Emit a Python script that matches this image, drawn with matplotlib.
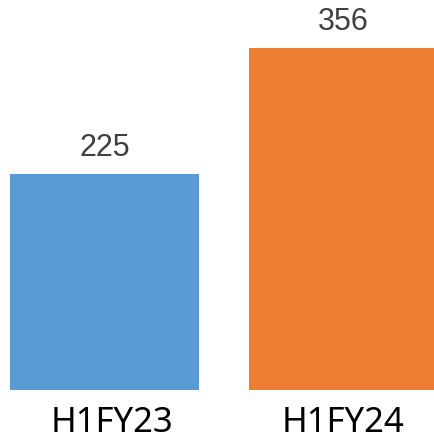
import matplotlib
matplotlib.use("Agg")
import matplotlib.pyplot as plt

categories = ["H1FY23", "H1FY24"]
values = [225, 356]
colors = ["#5B9BD5", "#ED7D31"]

fig = plt.figure(figsize=(4.34, 4.40), dpi=100)
ax = fig.add_axes([0, 50 / 440, 1, 390 / 440])

x = list(range(len(categories)))
bars = ax.bar(x, values, width=0.79, color=colors)

for rect, v in zip(bars, values):
    ax.annotate(f"{v}", (rect.get_x() + rect.get_width() / 2, v),
                xytext=(0, 13), textcoords="offset points",
                ha="center", va="baseline", fontsize=22,
                fontfamily=["Liberation Sans"], color="#404040")

ax.set_xlim(-0.437, 1.379)
ax.set_ylim(0, 406)
ax.set_xticks([0.03, 1.0])
ax.set_xticklabels(categories, fontsize=25, fontfamily=["Noto Sans"], color="black")
for lbl in ax.get_xticklabels():
    lbl.set_verticalalignment("baseline")
ax.tick_params(axis="x", length=0, pad=30)
ax.set_yticks([])
for s in ax.spines.values():
    s.set_visible(False)

fig.savefig("out.png", dpi=100)
